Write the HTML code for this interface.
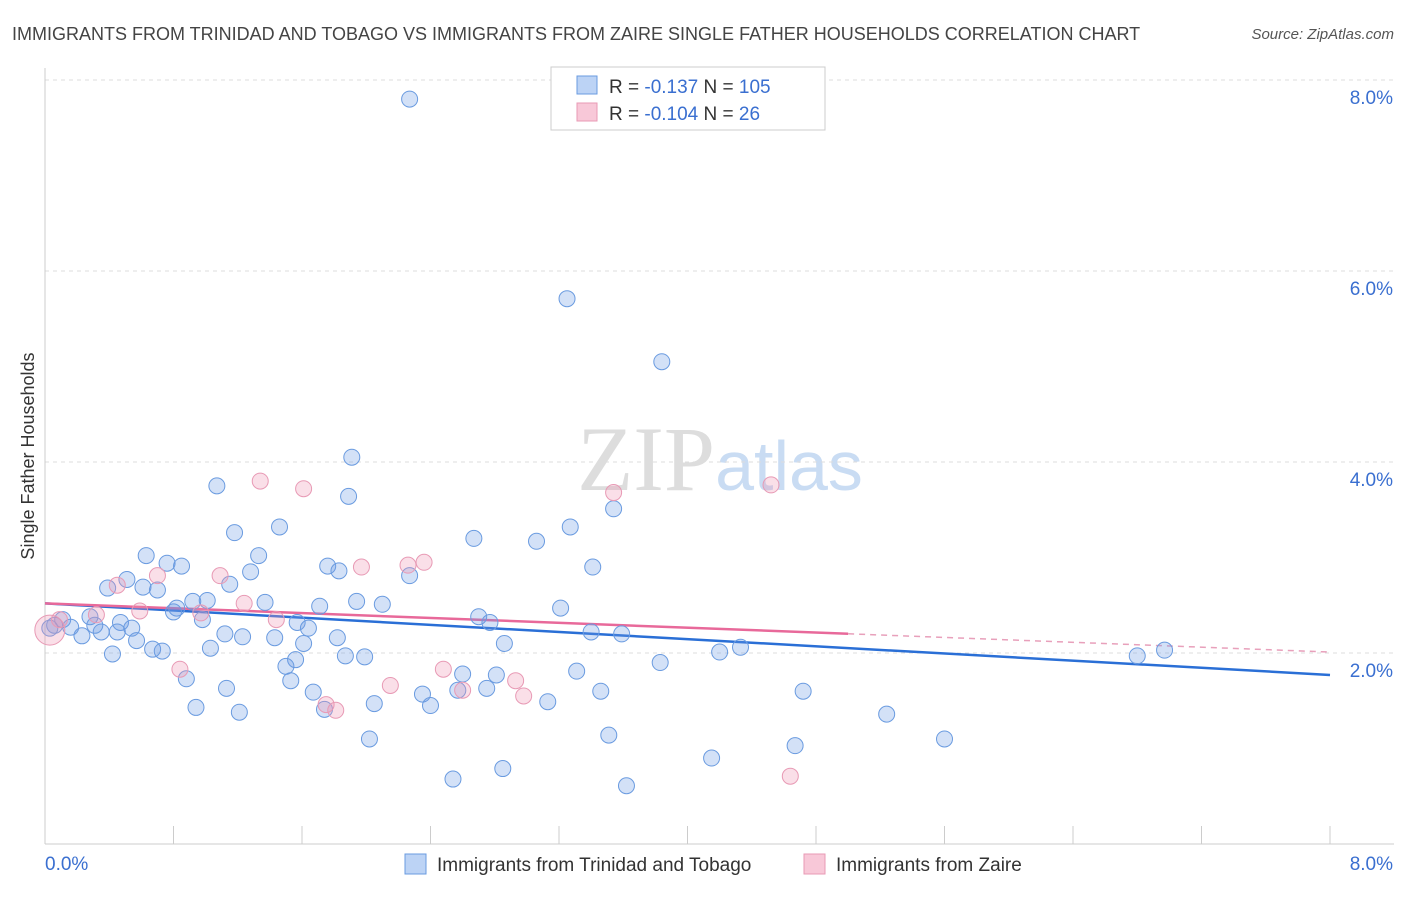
<!DOCTYPE html>
<html><head><meta charset="utf-8"><style>
body{margin:0;background:#fff;font-family:"Liberation Sans",sans-serif;}
svg text{font-family:"Liberation Sans",sans-serif;}
</style></head><body>
<svg id="chart" width="1406" height="892" viewBox="0 0 1406 892" xmlns="http://www.w3.org/2000/svg">
<text x="12" y="40" font-size="18" fill="#444">IMMIGRANTS FROM TRINIDAD AND TOBAGO VS IMMIGRANTS FROM ZAIRE SINGLE FATHER HOUSEHOLDS CORRELATION CHART</text>
<text x="1394" y="39" font-size="15" fill="#555" text-anchor="end" font-style="italic">Source: ZipAtlas.com</text>
<text x="720" y="490" font-size="92" text-anchor="middle"><tspan fill="#ddd" font-family="Liberation Serif,serif">ZIP</tspan><tspan fill="#c9dcf3" font-size="70">atlas</tspan></text>
<text transform="translate(34,456) rotate(-90)" font-size="18" fill="#333" text-anchor="middle">Single Father Households</text>
<g id="grid"></g><g id="axes"></g><g id="trends"></g><g id="points"></g>
<g>
<rect x="551" y="67" width="274" height="63" fill="#fff" stroke="#ccc"/>
<rect x="577" y="76" width="20" height="18" fill="#bcd3f5" stroke="#6a9be0"/>
<text x="609" y="93" font-size="19" fill="#333">R = <tspan fill="#3a6fd0">-0.137</tspan>   N = <tspan fill="#3a6fd0">105</tspan></text>
<rect x="577" y="103" width="20" height="18" fill="#f8c8d8" stroke="#e89ab5"/>
<text x="609" y="120" font-size="19" fill="#333">R = <tspan fill="#3a6fd0">-0.104</tspan>   N =   <tspan fill="#3a6fd0">26</tspan></text>
</g>
<g>
<rect x="405" y="854" width="21" height="20" fill="#bcd3f5" stroke="#6a9be0"/>
<text x="437" y="871" font-size="19" fill="#333">Immigrants from Trinidad and Tobago</text>
<rect x="804" y="854" width="21" height="20" fill="#f8c8d8" stroke="#e89ab5"/>
<text x="836" y="871" font-size="19" fill="#333">Immigrants from Zaire</text>
</g>
</svg>
<script>
const blueX=[2.27,3.25,3.84,1.91,1.07,1.89,3.54,3.27,1.18,1.46,2.67,3.06,0.63,1.33,0.76,0.85,3.41,1.76,1.83,2.27,1.28,0.51,0.39,0.61,0.70,1.15,1.01,0.92,1.37,1.94,2.10,1.71,3.21,0.82,0.80,0.98,2.70,2.77,1.57,1.64,1.12,1.23,1.43,1.82,3.40,3.59,0.47,0.35,0.45,0.54,0.57,0.23,0.11,0.16,0.31,0.06,0.28,0.03,2.86,1.61,1.03,0.67,0.73,0.42,1.87,1.99,4.20,4.33,6.80,6.97,1.56,1.50,3.83,3.31,2.60,2.81,0.88,1.53,1.13,1.67,2.57,2.75,2.35,3.46,4.72,0.94,1.21,1.74,2.05,2.40,3.13,5.24,2.02,3.51,4.67,5.60,4.15,2.85,2.54,3.62];
const blueY=[7.80,5.71,5.05,4.05,3.75,3.64,3.51,3.32,3.26,3.32,3.20,3.17,3.02,3.02,2.94,2.91,2.90,2.91,2.86,2.81,2.85,2.77,2.68,2.69,2.66,2.72,2.55,2.54,2.53,2.54,2.51,2.49,2.47,2.47,2.43,2.35,2.38,2.32,2.32,2.26,2.20,2.17,2.16,2.16,2.22,2.20,2.32,2.22,2.22,2.26,2.13,2.18,2.35,2.27,2.29,2.29,2.38,2.26,2.10,2.10,2.05,2.04,2.02,1.99,1.97,1.96,2.01,2.06,1.97,2.03,1.93,1.86,1.90,1.81,1.78,1.77,1.73,1.71,1.63,1.59,1.61,1.63,1.57,1.60,1.60,1.43,1.38,1.41,1.47,1.45,1.49,1.36,1.10,1.14,1.03,1.10,0.90,0.79,0.68,0.61];
const pinkX=[1.34,1.61,3.54,4.52,2.26,2.36,1.97,1.09,0.70,0.45,1.24,0.59,0.97,0.32,1.44,0.84,2.48,2.93,2.15,2.60,2.98,1.75,1.81,4.64,0.03,0.09];
const pinkY=[3.80,3.72,3.68,3.76,2.92,2.95,2.90,2.81,2.81,2.71,2.52,2.44,2.42,2.40,2.35,1.83,1.83,1.71,1.66,1.61,1.55,1.46,1.40,0.71,2.24,2.35];
const pinkR=[8,8,8,8,8,8,8,8,8,8,8,8,8,8,8,8,8,8,8,8,8,8,8,8,15,8];
const blueTrend=[2.52,1.77];
const pinkTrend=[2.52,2.01];
const pinkSolidEnd=5.0;
const yTicks=[2,4,6,8];
const yTickLabels=["2.0%","4.0%","6.0%","8.0%"];
const xTicks=[0,0.8,1.6,2.4,3.2,4.0,4.8,5.6,6.4,7.2,8.0];

const NS="http://www.w3.org/2000/svg";
const X=v=>45+v*160.625, Y=v=>844-v*95.5;
function mk(tag,attrs,parent){const e=document.createElementNS(NS,tag);for(const k in attrs)e.setAttribute(k,attrs[k]);document.getElementById(parent).appendChild(e);return e;}
yTicks.forEach((t,i)=>{
 const g=mk('line',{x1:45,x2:1394,y1:Y(t),y2:Y(t),stroke:'#ddd','stroke-dasharray':'4,4'},'grid');
 
 
 const l=mk('text',{x:1393,y:Y(t)+24,'font-size':19,fill:'#3a6fd0','text-anchor':'end'},'grid');
 l.textContent=yTickLabels[i];
 
 
});
const ax=mk('line',{x1:45,x2:1394,y1:844,y2:844,stroke:'#ccc'},'axes');


const ay=mk('line',{x1:45,x2:45,y1:68,y2:844,stroke:'#ccc'},'axes');


xTicks.forEach(t=>{
 const k=mk('line',{x1:X(t),x2:X(t),y1:826,y2:844,stroke:'#ccc'},'axes');
 
 
});
const xl0=mk('text',{x:45,y:870,'font-size':19,fill:'#3a6fd0'},'axes');xl0.textContent='0.0%';


const xl1=mk('text',{x:1393,y:870,'font-size':19,fill:'#3a6fd0','text-anchor':'end'},'axes');xl1.textContent='8.0%';


blueX.forEach((x,i)=>{
 const c=mk('circle',{cx:X(x),cy:Y(blueY[i]),r:8,fill:'rgba(110,155,230,0.3)',stroke:'#6a9be0','stroke-width':1},'points');
 
 
});
pinkX.forEach((x,i)=>{
 const c=mk('circle',{cx:X(x),cy:Y(pinkY[i]),r:pinkR[i],fill:'rgba(240,150,180,0.3)',stroke:'#e89ab5','stroke-width':1},'points');
 
 
});
const bt=mk('line',{x1:X(0),y1:Y(blueTrend[0]),x2:X(8),y2:Y(blueTrend[1]),stroke:'#2a6fd6','stroke-width':2.5},'trends');


const pm=pinkTrend[0]+(pinkTrend[1]-pinkTrend[0])*pinkSolidEnd/8;
const pt=mk('line',{x1:X(0),y1:Y(pinkTrend[0]),x2:X(pinkSolidEnd),y2:Y(pm),stroke:'#e8699a','stroke-width':2.5},'trends');


const pd=mk('line',{x1:X(pinkSolidEnd),y1:Y(pm),x2:X(8),y2:Y(pinkTrend[1]),stroke:'#e8a0bb','stroke-width':1.5,'stroke-dasharray':'6,5'},'trends');


</script>
</body></html>
